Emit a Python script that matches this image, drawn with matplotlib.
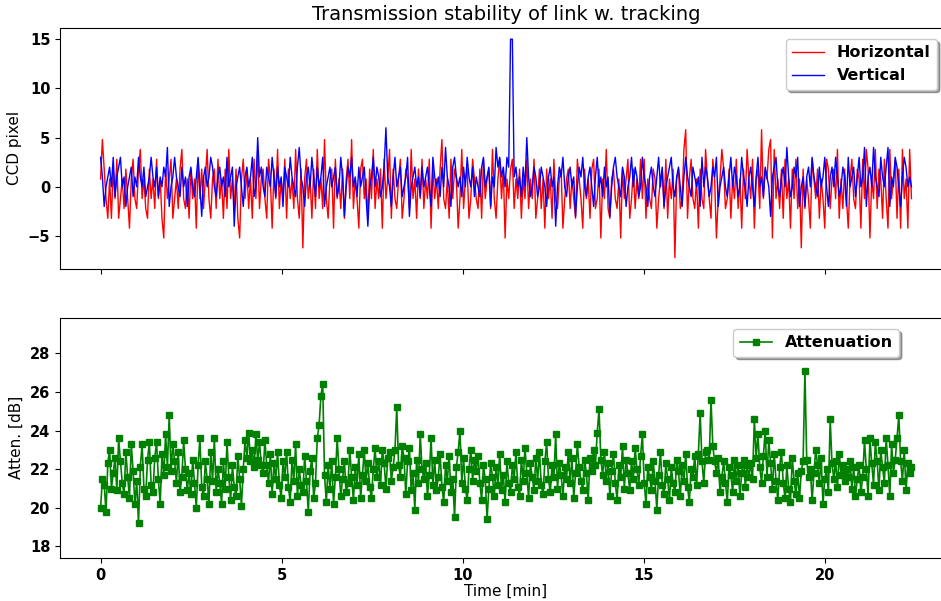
import matplotlib
matplotlib.use("Agg")
import matplotlib.pyplot as plt
import numpy as np

# CCD spot position (pixel), sampled about every 0.05 min
horizontal = [
    0.8, 4.8, 1.8, -1.2, -3.2, 0.8, -3.2, 1.8, -1.2, 2.8, -3.2, -1.2, 0.8, -2.2, 1.8, -1.2, -4.2, 0.8, 2.8, -1.2, -2.2, 1.8, 3.8, -1.2, 0.8, -2.2, -3.2, 1.8, -1.2, 0.8,
    -2.2, 2.8, -1.2, 0.8, -3.2, -5.2, 1.8, -1.2, 0.8, 2.8, -3.2, -1.2, 0.8, -2.2, 1.8, 3.8, -1.2, -2.2, 0.8, -3.2, 1.8, -1.2, 0.8, -4.2, 2.8, -1.2, 1.8, -2.2, 0.8, 3.8,
    -1.2, -3.2, 0.8, 1.8, -2.2, 2.8, -1.2, 0.8, -3.2, 1.8, -2.2, 3.8, -1.2, 0.8, -2.2, 1.8, -3.2, -5.2, 0.8, 2.8, -1.2, 1.8, -2.2, 0.8, -3.2, 2.8, -1.2, 3.8, -2.2, 0.8,
    1.8, -1.2, -3.2, 2.8, 0.8, -4.2, 1.8, -1.2, 3.8, -2.2, 0.8, -1.2, 2.8, -3.2, 1.8, -1.2, 0.8, -2.2, 3.8, -1.2, -3.2, 1.8, -6.2, 0.8, 2.8, -1.2, 0.8, -3.2, 1.8, -2.2,
    3.8, -1.2, 0.8, -2.2, 4.8, -1.2, -3.2, 0.8, 1.8, -4.2, 2.8, -1.2, 0.8, -2.2, 1.8, -3.2, 0.8, 2.8, -1.2, 4.8, -2.2, 0.8, -1.2, -4.2, 1.8, 2.8, -1.2, 0.8, -3.2, 1.8,
    -1.2, 3.8, -2.2, 0.8, -1.2, 1.8, -4.2, 2.8, -1.2, 0.8, 3.8, -3.2, 1.8, -1.2, -2.2, 0.8, 2.8, -3.2, -1.2, 1.8, 0.8, -2.2, 3.8, -1.2, 0.8, -3.2, 1.8, -1.2, 2.8, -2.2,
    0.8, -1.2, 2.8, -4.2, 1.8, -1.2, 0.8, -2.2, 1.8, 4.8, -1.2, -2.2, 0.8, -3.2, 2.8, -1.2, 1.8, 0.8, -4.2, -1.2, 3.8, -2.2, 0.8, 1.8, -3.2, -1.2, 2.8, 0.8, -1.2, -2.2,
    1.8, -3.2, 2.8, -1.2, 0.8, 1.8, -2.2, 3.8, -1.2, -3.2, 0.8, 2.8, -1.2, 1.8, -5.2, 0.8, -1.2, 1.8, 2.8, -2.2, 0.8, -1.2, 1.8, -3.2, 0.8, -1.2, 2.8, -2.2, 0.8, -1.2,
    2.8, -3.2, -1.2, 1.8, -2.2, 0.8, -4.2, 1.8, -1.2, 0.8, -3.2, 2.8, -1.2, -2.2, 0.8, 1.8, -4.2, -1.2, 0.8, 1.8, -2.2, 0.8, -1.2, -3.2, 2.8, 0.8, -1.2, -4.2, 1.8, -1.2,
    0.8, -3.2, 1.8, 2.8, -2.2, -1.2, 1.8, -5.2, 0.8, -1.2, 3.8, -2.2, -3.2, 0.8, 1.8, -1.2, -2.2, 0.8, -5.2, 1.8, -1.2, 0.8, 2.8, -3.2, -1.2, 1.8, -2.2, 0.8, -1.2, 2.8,
    -1.2, 2.8, -3.2, 0.8, -1.2, -2.2, 1.8, 0.8, -4.2, -1.2, 0.8, 1.8, -2.2, 2.8, -3.2, 0.8, -1.2, 1.8, -7.2, 0.8, 1.8, -2.2, -1.2, 3.8, 5.8, -3.2, 0.8, 2.8, -1.2, -2.2,
    0.8, -4.2, 1.8, -1.2, -2.2, 3.8, 0.8, -1.2, -3.2, 2.8, 0.8, -5.2, -1.2, 0.8, 3.8, 1.8, -2.2, -1.2, 1.8, -3.2, 0.8, -1.2, 2.8, -2.2, 0.8, -4.2, 1.8, -1.2, 3.8, 0.8,
    -1.2, 2.8, -4.2, 0.8, 1.8, -2.2, 5.8, -1.2, 1.8, 0.8, 3.8, 4.8, -5.2, 3.8, -1.2, 0.8, -2.2, 1.8, -3.2, 2.8, -1.2, 0.8, -4.2, 1.8, -1.2, 2.8, -2.2, 0.8, -6.2, 1.8,
    -2.2, 0.8, -1.2, -4.2, 2.8, 0.8, -1.2, 1.8, -3.2, 0.8, -1.2, -4.2, 2.8, 1.8, -2.2, 0.8, 1.8, -1.2, 3.8, -3.2, 0.8, -2.2, 1.8, -1.2, -4.2, 0.8, 2.8, -1.2, -2.2, 1.8,
    0.8, -4.2, 2.8, -1.2, 3.8, 1.8, -5.2, 0.8, -1.2, 3.8, -2.2, 1.8, 0.8, -3.2, 2.8, -1.2, -4.2, 3.8, -1.2, 0.8, 2.8, -3.2, 1.8, -4.2, 3.8, -1.2, 0.8, -4.2, 3.8, -1.2,
]

vertical = [
    3, 1, -2, 0, 1, 2, 0, 3, -1, 1, 2, 3, 0, 1, -2, 0, 1, 2, -1, 1, 0, 3, 1, 0, 2, -1, 0, 1, 3, 1,
    0, 2, -1, 1, 0, 2, 1, 4, -2, 0, 1, 3, 1, 0, -1, 2, 0, 1, -2, 1, 2, 0, -1, 1, 3, 0, -3, 1, 2, 0,
    1, 3, 2, 0, -1, 1, 2, 0, 1, -1, 3, 0, 1, 2, -4, 0, 1, 2, 0, -2, 1, 2, 0, 1, 3, -1, 0, 5, 1, 2,
    0, -1, 2, 1, 0, 3, 1, -1, 2, 0, 1, -2, 2, 1, 0, 3, 1, 0, -1, 2, 4, 1, 0, -2, 1, 2, 0, 3, 1, -1,
    2, 0, 1, 3, -2, 0, 1, 2, 0, 1, 2, -1, 0, 3, 1, -3, 0, 2, 1, 3, 0, 1, -1, 2, 0, 1, 2, -1, -4, 0,
    1, 3, 0, 2, 1, -1, 0, 2, 6, 1, 0, -2, 1, 3, 0, 1, 2, -1, 0, 1, 3, -3, 0, 1, 2, 0, 1, -1, 2, 0,
    1, 2, 0, -2, 3, 1, 0, 1, -1, 2, 0, 4, 1, 0, -2, 2, 3, 1, 0, 1, -1, 2, 0, 3, 1, 0, 2, -1, 1, 0,
    -1, 2, 3, 0, 1, 2, -2, 1, 0, 4, 2, 3, 1, 2, 0, 3, 2, 15, 15, 1, 2, 0, 1, -1, 2, 0, 5, 1, -1, 0,
    2, 1, -1, 0, 2, 1, 0, -2, 1, 2, 0, 1, -4, 0, 2, 1, 3, 0, -1, 1, 2, 0, 1, -3, 0, 2, 1, 3, 0, -1,
    1, 2, 0, -2, 1, 3, 0, 1, -1, 2, 0, 1, -3, 0, 2, 3, 1, 0, -1, 2, 1, -2, 0, 1, 3, 0, 2, 1, -1, 0,
    3, 1, 0, -2, 1, 2, 0, -1, 1, 3, 0, 2, -2, 0, 1, 2, 3, 0, -1, 1, 2, 0, -2, 1, 3, 1, 0, -1, 2, 1,
    0, 1, -2, 3, 0, 2, 1, -1, 0, 2, 1, 3, -2, 0, 1, 2, 0, -1, 1, 3, 0, 2, 1, -1, 0, 3, 1, 0, -2, 1,
    2, 0, -2, 1, 3, 0, 1, -1, 2, 1, 0, -3, 1, 2, 3, 0, -1, 1, 2, 0, 4, 1, -1, 0, 2, 1, 3, -2, 0, 1,
    -2, 1, 2, 0, 3, 1, 0, -1, 2, 0, 1, 3, 0, -2, 1, 2, 0, 3, 1, -1, 0, 2, 1, -2, 3, 0, 1, 2, -1, 1,
    3, 0, 1, 4, -2, 1, 2, 0, 4, 1, 0, -1, 3, 1, 0, 2, 4, -2, 1, 0, 3, 2, 0, -2, 1, 3, 2, 0, 1, 0,
]

# link attenuation (dB)
attenuation = [
    20.0, 21.5, 21.2, 19.8, 22.3, 23.0, 21.0, 21.8, 22.6, 20.9, 23.6, 22.4, 21.3, 20.7, 22.9, 21.6, 20.5, 23.3, 21.9, 20.2, 21.4, 19.2, 22.1, 23.3, 21.0, 20.6, 22.5, 23.4, 21.2, 20.8,
    22.6, 23.4, 21.5, 20.2, 22.8, 21.7, 23.8, 22.1, 24.8, 21.9, 23.3, 22.4, 21.3, 22.9, 20.8, 21.6, 23.5, 22.0, 20.9, 21.8, 20.7, 22.5, 21.3, 20.0, 22.2, 23.6, 21.1, 20.6, 22.4, 21.5,
    20.2, 22.9, 21.4, 23.6, 20.8, 22.0, 21.3, 20.2, 22.4, 21.0, 23.4, 21.6, 20.4, 22.2, 21.1, 20.6, 22.7, 21.5, 20.1, 22.0, 23.5, 22.6, 23.9, 22.4, 23.0, 22.1, 23.8, 22.5, 23.4, 22.2,
    21.8, 23.5, 22.2, 21.3, 22.8, 20.7, 22.3, 21.5, 22.9, 21.2, 20.5, 22.4, 21.6, 22.9, 21.1, 20.3, 22.5, 21.4, 23.3, 20.6, 22.0, 21.2, 20.8, 22.7, 21.4, 19.8, 21.9, 22.6, 20.5, 21.3,
    23.6, 24.3, 25.8, 26.4, 21.7, 20.3, 22.2, 21.0, 22.4, 20.2, 21.6, 23.6, 22.0, 20.6, 21.5, 22.4, 20.8, 21.3, 23.0, 21.6, 20.4, 22.1, 21.2, 22.8, 20.5, 21.7, 23.0, 21.4, 22.3, 21.1,
    20.5, 22.0, 23.1, 21.6, 22.4, 21.2, 23.0, 22.3, 21.0, 22.6, 22.9, 21.4, 22.1, 23.0, 25.2, 22.2, 21.6, 23.2, 22.6, 20.7, 22.4, 23.1, 20.9, 21.8, 19.9, 22.5, 21.3, 23.8, 22.0, 21.5,
    22.3, 20.6, 21.7, 23.6, 21.2, 22.5, 20.9, 21.6, 22.8, 21.1, 20.3, 22.2, 21.4, 22.7, 20.8, 21.5, 19.5, 22.1, 22.9, 24.0, 21.3, 22.6, 21.0, 20.4, 22.0, 23.0, 21.4, 22.5, 21.9, 22.7,
    21.3, 20.4, 22.2, 21.5, 19.4, 21.0, 22.3, 21.6, 20.6, 22.1, 21.2, 22.8, 20.9, 21.7, 20.3, 22.4, 21.3, 20.8, 22.2, 21.5, 22.9, 21.1, 20.6, 22.5, 21.4, 23.1, 21.8, 20.5, 22.3, 21.6,
    20.9, 22.6, 21.4, 22.9, 21.2, 20.7, 22.4, 23.4, 21.5, 20.8, 22.2, 21.6, 23.8, 21.0, 22.3, 21.7, 20.6, 22.1, 21.5, 22.9, 21.3, 22.6, 20.5, 21.8, 23.3, 22.1, 21.4, 20.9, 22.5, 21.8,
    20.4, 22.6, 21.9, 23.0, 22.2, 23.9, 25.1, 22.5, 21.7, 22.9, 21.4, 22.3, 20.6, 21.9, 22.8, 21.3, 20.4, 22.2, 21.6, 23.2, 21.0, 22.5, 21.8, 20.9, 22.4, 21.5, 23.1, 22.0, 21.2, 22.7,
    23.8, 21.3, 20.2, 22.1, 21.6, 20.9, 22.4, 21.4, 19.9, 21.7, 22.9, 21.2, 20.7, 22.3, 21.5, 20.4, 22.1, 21.3, 20.8, 22.5, 21.9, 20.6, 22.2, 21.4, 22.8, 21.1, 20.3, 22.0, 21.6, 22.7,
    21.2, 22.8, 24.9, 22.4, 21.3, 22.9, 23.0, 22.5, 25.6, 23.2, 22.4, 21.8, 22.6, 20.8, 21.6, 22.4, 21.3, 20.3, 22.1, 21.7, 20.8, 22.5, 21.4, 22.2, 20.6, 21.8, 22.5, 21.1, 22.2, 21.6,
    22.3, 21.5, 24.6, 22.6, 23.8, 22.1, 21.3, 22.7, 24.0, 21.6, 23.5, 22.3, 21.0, 22.8, 21.4, 20.4, 22.1, 22.9, 21.3, 20.5, 22.2, 21.0, 20.3, 22.6, 21.4, 20.7, 21.8, 20.5, 21.9, 22.4,
    27.1, 22.5, 21.6, 22.0, 20.4, 21.8, 23.0, 22.2, 21.3, 22.6, 20.2, 21.5, 22.0, 20.8, 24.6, 22.3, 21.5, 22.4, 21.1, 22.8, 21.7, 22.2, 21.4, 22.0, 21.6, 22.4, 21.0, 22.1, 20.6, 21.5,
    22.2, 20.8, 21.6, 23.5, 22.0, 20.6, 23.6, 22.3, 21.2, 23.4, 22.4, 20.9, 23.0, 22.1, 21.3, 23.6, 22.2, 20.6, 23.3, 21.8, 22.5, 23.6, 24.8, 22.4, 21.4, 23.0, 20.9, 22.3, 21.8, 22.1,
]

t_end = 22.4  # last sample [min]

fig, (ax1, ax2) = plt.subplots(2, 1, sharex=True, figsize=(9.41, 6.01), dpi=100)
fig.subplots_adjust(left=0.0638, right=1.0117, bottom=0.0715, top=0.953, hspace=0.204)

ax1.plot(np.linspace(0, t_end, len(horizontal)), horizontal, color='r', lw=1, label='Horizontal')
ax1.plot(np.linspace(0, t_end, len(vertical)), vertical, color='b', lw=1, label='Vertical')
ax1.set_title('Transmission stability of link w. tracking', fontsize=14)
ax1.set_ylabel('CCD pixel', fontsize=11)
ax1.set_yticks([-5, 0, 5, 10, 15])
ax1.legend(loc='upper right', bbox_to_anchor=(937 / 941, 1 - 39 / 601),
           bbox_transform=fig.transFigure, borderaxespad=0, shadow=True,
           framealpha=1, prop={'weight': 'bold', 'size': 11.5})

ax2.plot(np.linspace(0, t_end, len(attenuation)), attenuation, color='g', lw=1.2,
         marker='s', markersize=4, label='Attenuation')
ax2.set_ylim(17.4, 29.85)
ax2.set_yticks([18, 20, 22, 24, 26, 28])
ax2.set_ylabel('Atten. [dB]', fontsize=11)
ax2.set_xlabel('Time [min]', fontsize=11, labelpad=1)
ax2.set_xticks([0, 5, 10, 15, 20])
ax2.legend(loc='upper right', bbox_to_anchor=(899 / 941, 1 - 329 / 601),
           bbox_transform=fig.transFigure, borderaxespad=0, shadow=True,
           numpoints=1, framealpha=1, prop={'weight': 'bold', 'size': 11.5})

for ax in (ax1, ax2):
    for lab in ax.get_xticklabels() + ax.get_yticklabels():
        lab.set_fontweight('bold')
        lab.set_fontsize(10.5)

fig.savefig('out.png', dpi=100)
